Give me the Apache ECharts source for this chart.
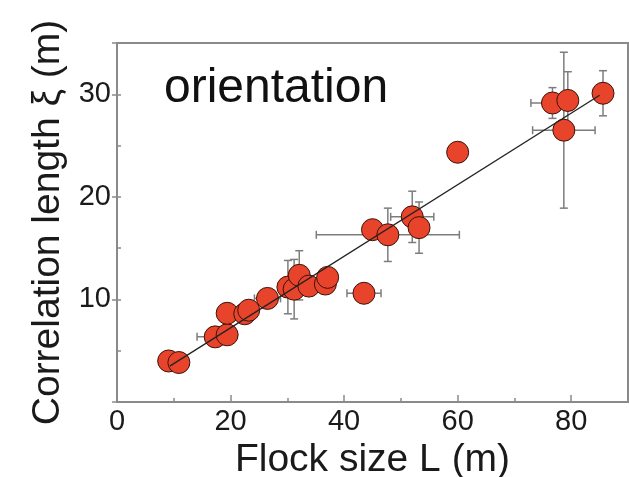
<!DOCTYPE html>
<html><head><meta charset="utf-8">
<script src="https://cdn.jsdelivr.net/npm/echarts@6/dist/echarts.min.js"></script>
<style>html,body{margin:0;padding:0;background:#fff}#c{width:629px;height:477px}</style>
</head><body><div id="c"></div>
<script>
// Flock size L (m)
const flockSize  = [9.1, 10.9, 17.3, 19.4, 19.4, 22.5, 23.2, 26.5, 30.1, 31.2, 32.1, 33.8, 36.7, 37.1, 43.5, 45.0, 47.7, 52.0, 53.2, 60.0, 76.7, 79.4, 78.7, 85.6];
// Correlation length xi (m)
const corrLength = [4.0, 3.85, 6.35, 6.55, 8.65, 8.6, 8.95, 10.1, 11.2, 11.0, 12.35, 11.3, 11.5, 12.15, 10.6, 16.8, 16.3, 18.05, 17.0, 24.35, 29.15, 29.4, 26.5, 30.1];
// error bars (half widths), 0 = none
const flockErr   = [0, 0, 3.2, 0, 0, 0, 0, 2.3, 0, 0, 0, 0, 0, 0, 3.0, 0, 12.6, 3.8, 0, 0, 3.8, 0, 5.5, 0];
const corrErr    = [0, 0, 0, 0, 0, 0, 0, 0, 2.6, 2.9, 2.4, 0, 0, 0, 0, 0, 2.6, 2.5, 2.5, 0, 1.5, 2.8, 7.6, 2.2];
// linear fit line end points
const fitX = [9.3, 85.0];
const fitY = [3.5, 29.9];
const annotation = 'orientation';

const FONT = 'Liberation Sans, Arial, Helvetica, sans-serif';
const rows = flockSize.map((x, i) => [x, corrLength[i], flockErr[i], corrErr[i]]);

const chart = echarts.init(document.getElementById('c'), null, {renderer: 'canvas'});
const axisCol = '#8a8a8a';
chart.setOption({
  animation: false,
  backgroundColor: '#fff',
  grid: {left: 117, right: 1, top: 43, bottom: 75, outerBoundsMode: 'none', containLabel: false,
    show: true, borderColor: axisCol, borderWidth: 2, backgroundColor: 'transparent'},
  xAxis: {
    type: 'value', min: 0, max: 90, interval: 20,
    name: 'Flock size L (m)', nameLocation: 'middle', nameGap: 34,
    nameTextStyle: {fontFamily: FONT, fontSize: 39, color: '#1a1a1a'},
    axisLine: {show: true, lineStyle: {color: axisCol, width: 2}},
    axisTick: {show: true, inside: true, length: 7, lineStyle: {color: axisCol, width: 1.5}},
    minorTick: {show: true, splitNumber: 2, length: 4, lineStyle: {color: axisCol, width: 1.5}},
    axisLabel: {fontFamily: FONT, fontSize: 29, color: '#1a1a1a', margin: 5,
      formatter: v => v > 80 ? '' : String(v)},
    splitLine: {show: false}
  },
  yAxis: [{
    type: 'value', min: 0, max: 35, interval: 10,
    name: 'Correlation length ξ (m)', nameLocation: 'middle', nameGap: 46, nameRotate: 90,
    nameTextStyle: {fontFamily: FONT, fontSize: 39, color: '#1a1a1a'},
    axisLine: {show: true, lineStyle: {color: axisCol, width: 2}},
    axisTick: {show: true, inside: false, length: 5, lineStyle: {color: axisCol, width: 1.5}},
    axisLabel: {fontFamily: FONT, fontSize: 29, color: '#1a1a1a', margin: 6,
      formatter: v => (v === 0 || v > 30) ? '' : String(v)},
    splitLine: {show: false}
  }, {
    type: 'value', min: 0, max: 35, interval: 5, position: 'left',
    axisLine: {show: false},
    axisTick: {show: true, inside: true, length: 4, lineStyle: {color: axisCol, width: 1.5}},
    axisLabel: {show: false},
    splitLine: {show: false}
  }],
  graphic: [{
    type: 'text', left: 164, top: 65,
    style: {text: annotation, fontFamily: FONT, fontSize: 48, fill: '#111'}
  }],
  series: [{
    type: 'custom',
    data: rows,
    z: 2,
    renderItem: (params, api) => {
      const x = api.value(0), y = api.value(1), xe = api.value(2), ye = api.value(3);
      const children = [];
      const style = {stroke: '#7d7d7d', lineWidth: 1.5, fill: null};
      const cap = 4;
      if (xe > 0) {
        const a = api.coord([x - xe, y]), b = api.coord([x + xe, y]);
        children.push({type: 'line', shape: {x1: a[0], y1: a[1], x2: b[0], y2: b[1]}, style});
        children.push({type: 'line', shape: {x1: a[0], y1: a[1] - cap, x2: a[0], y2: a[1] + cap}, style});
        children.push({type: 'line', shape: {x1: b[0], y1: b[1] - cap, x2: b[0], y2: b[1] + cap}, style});
      }
      if (ye > 0) {
        const a = api.coord([x, y - ye]), b = api.coord([x, y + ye]);
        children.push({type: 'line', shape: {x1: a[0], y1: a[1], x2: b[0], y2: b[1]}, style});
        children.push({type: 'line', shape: {x1: a[0] - cap, y1: a[1], x2: a[0] + cap, y2: a[1]}, style});
        children.push({type: 'line', shape: {x1: b[0] - cap, y1: b[1], x2: b[0] + cap, y2: b[1]}, style});
      }
      return {type: 'group', children};
    }
  }, {
    type: 'scatter',
    data: flockSize.map((x, i) => [x, corrLength[i]]),
    symbol: 'circle', symbolSize: 22, z: 3,
    itemStyle: {color: '#e8432b', borderColor: '#3a140a', borderWidth: 1, opacity: 1}
  }, {
    type: 'line',
    data: fitX.map((x, i) => [x, fitY[i]]),
    showSymbol: false, symbol: 'none', z: 4,
    lineStyle: {color: '#222', width: 1.3}
  }]
});
</script></body></html>
